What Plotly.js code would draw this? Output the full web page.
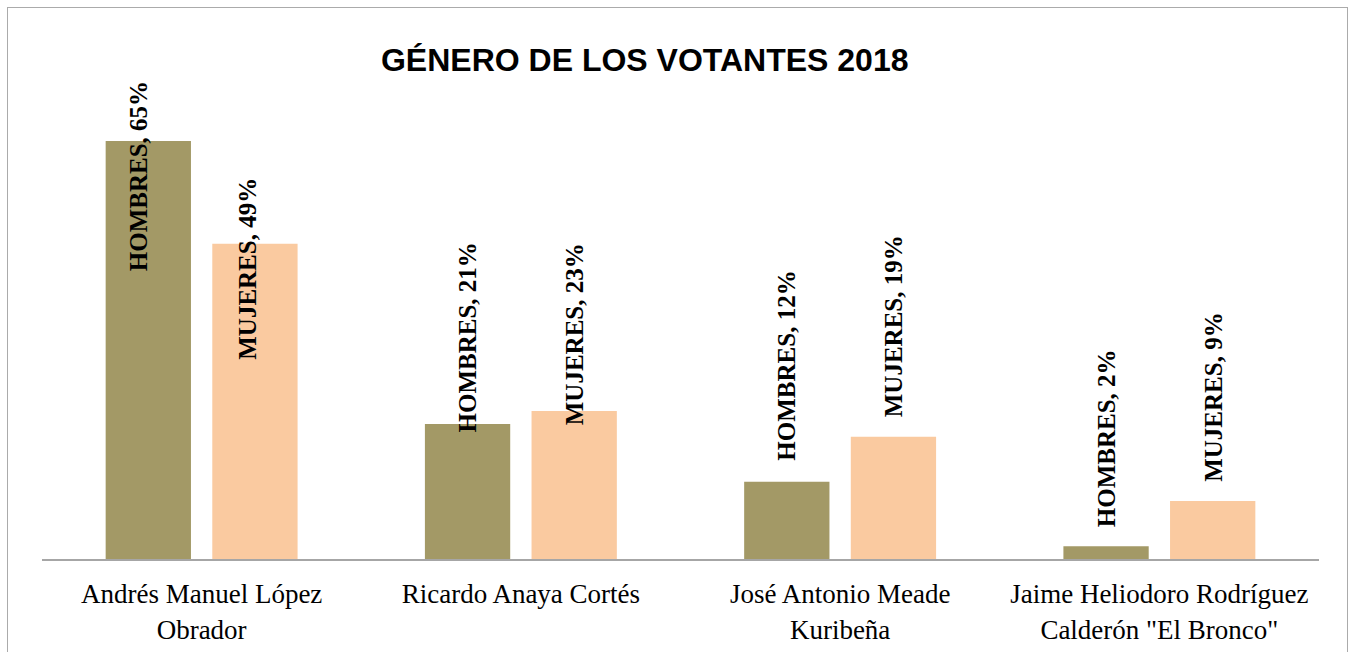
<!DOCTYPE html>
<html>
<head>
<meta charset="utf-8">
<script src="https://cdn.plot.ly/plotly-3.0.1.min.js"></script>
<style>
  html, body { margin: 0; padding: 0; background: #ffffff; }
  #frame { position: absolute; left: 7px; top: 7px; width: 1341px; height: 700px; border: 1.5px solid #ABABAB; box-sizing: border-box; }
  #chart { position: absolute; left: 0; top: 0; width: 1356px; height: 652px; }
</style>
</head>
<body>
<div id="frame"></div>
<div id="chart"></div>
<script>
// ---- data ----
const categories = [
  "Andrés Manuel López<br>Obrador",
  "Ricardo Anaya Cortés",
  "José Antonio Meade<br>Kuribeña",
  "Jaime Heliodoro Rodríguez<br>Calderón \"El Bronco\""
];
const seriesNames = ["HOMBRES", "MUJERES"];
const hombres = [65, 21, 12, 2];
const mujeres = [49, 23, 19, 9];
const chartTitle = "GÉNERO DE LOS VOTANTES 2018";

// ---- layout / style settings ----
const colors = ["#A39966", "#FACAA0"];
const bargap = 0.332;
const bargroupgap = 0.2;
// pixel shifts of each data label (centre) relative to its bar top
const labelShiftY = [
  [-35, 86, 116, 108],
  [-25, 77, 111, 104]
];
const labelShiftX = [
  [-9, 0, 0, 0],
  [-7, 0, 0, 0]
];

const series = [hombres, mujeres];
const traces = series.map((vals, s) => ({
  type: "bar",
  name: seriesNames[s],
  x: categories,
  y: vals,
  marker: { color: colors[s] },
  hoverinfo: "skip"
}));

const half = (1 - bargap) / 4;
const annotations = [];
series.forEach((vals, s) => {
  vals.forEach((v, i) => {
    annotations.push({
      x: i + (s === 0 ? -half : half),
      y: v,
      xref: "x",
      yref: "y",
      text: "<b>" + seriesNames[s] + ", " + v + "%</b>",
      textangle: -90,
      showarrow: false,
      xanchor: "center",
      yanchor: "middle",
      xshift: labelShiftX[s][i],
      yshift: labelShiftY[s][i],
      font: { family: "Liberation Serif, Times New Roman, serif", size: 25, color: "#000000" }
    });
  });
});

const layout = {
  width: 1356,
  height: 652,
  paper_bgcolor: "rgba(0,0,0,0)",
  plot_bgcolor: "rgba(0,0,0,0)",
  margin: { l: 42, r: 37, t: 20, b: 93 },
  showlegend: false,
  barmode: "group",
  bargap: bargap,
  bargroupgap: bargroupgap,
  title: {
    text: "<b>" + chartTitle + "</b>",
    font: { family: "Liberation Sans, Arial, sans-serif", size: 32, color: "#000000" },
    x: 0.472, xref: "paper", xanchor: "center",
    y: 0.909, yref: "container", yanchor: "middle"
  },
  xaxis: {
    type: "category",
    showline: true,
    linecolor: "#A6A6A6",
    linewidth: 2,
    ticks: "",
    showgrid: false,
    zeroline: false,
    tickfont: { family: "Liberation Serif, Times New Roman, serif", size: 27, color: "#000000" },
    ticklabelstandoff: 10
  },
  yaxis: {
    range: [0, 83.8],
    showgrid: false,
    zeroline: false,
    showline: false,
    showticklabels: false,
    ticks: "",
    fixedrange: true
  },
  annotations: annotations
};

Plotly.newPlot("chart", traces, layout, { displayModeBar: false, staticPlot: true });
</script>
</body>
</html>
